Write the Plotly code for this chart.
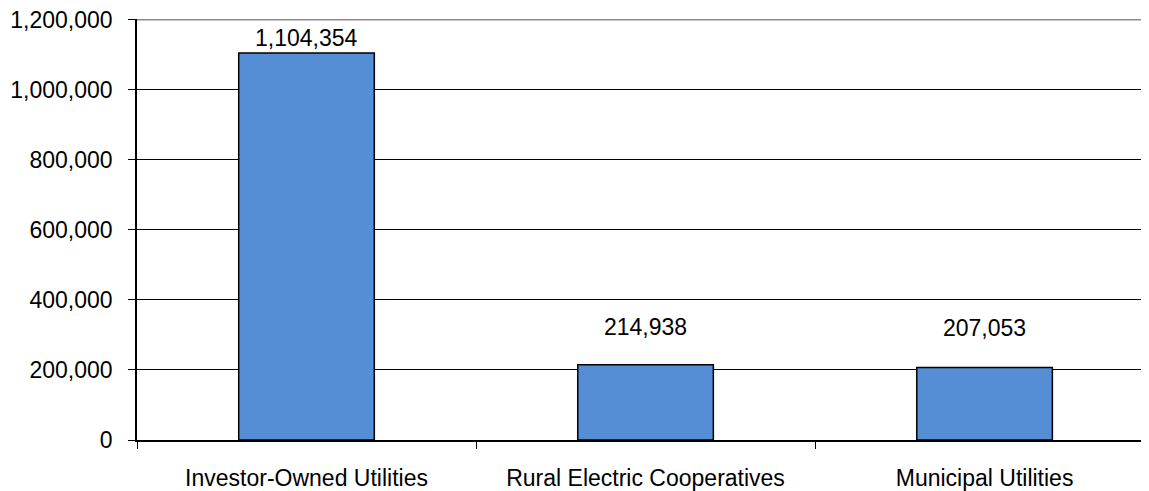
import plotly.graph_objects as go

categories = ["Investor-Owned Utilities", "Rural Electric Cooperatives", "Municipal Utilities"]
values = [1104354, 214938, 207053]
y_ticks = [0, 200000, 400000, 600000, 800000, 1000000, 1200000]

label_shift = [0, 23, 24]
FONT = "Liberation Sans, Arial, sans-serif"

fig = go.Figure()
fig.add_trace(go.Bar(
    x=categories, y=values,
    marker=dict(color="#558ED5", line=dict(color="black", width=1.5)),
    width=0.4,
))

for c, v, s in zip(categories, values, label_shift):
    fig.add_annotation(x=c, y=v, text=f"{v:,}", showarrow=False, yshift=s,
                       yanchor="bottom", font=dict(family=FONT, size=23, color="black"))

fig.update_layout(
    width=1141, height=483,
    margin=dict(l=129, r=0, t=11, b=51),
    plot_bgcolor="white", paper_bgcolor="white",
    showlegend=False,
    font=dict(family=FONT, size=23, color="black"),
    xaxis=dict(
        range=[-0.5, 2.485], tickson="boundaries", ticks="outside", ticklen=7,
        tickcolor="black", showline=True, linecolor="black", linewidth=1.5,
        showgrid=False, ticklabelstandoff=17, automargin=False,
        ticklabeloverflow="allow",
    ),
    yaxis=dict(
        range=[0, 1201500], tickvals=y_ticks, ticktext=[f"{t:,}" for t in y_ticks],
        ticks="outside", ticklen=7, tickcolor="black",
        showline=True, linecolor="black", linewidth=1.5,
        showgrid=True, gridcolor="black", gridwidth=1.2, zeroline=False,
        ticklabelstandoff=11, automargin=False, ticklabeloverflow="allow",
    ),
    shapes=[dict(type="line", xref="paper", yref="y", x0=0, x1=1,
                 y0=y_ticks[-1], y1=y_ticks[-1], layer="above",
                 line=dict(color="#8c8c8c", width=2))],
)

fig.write_html("out.html")
